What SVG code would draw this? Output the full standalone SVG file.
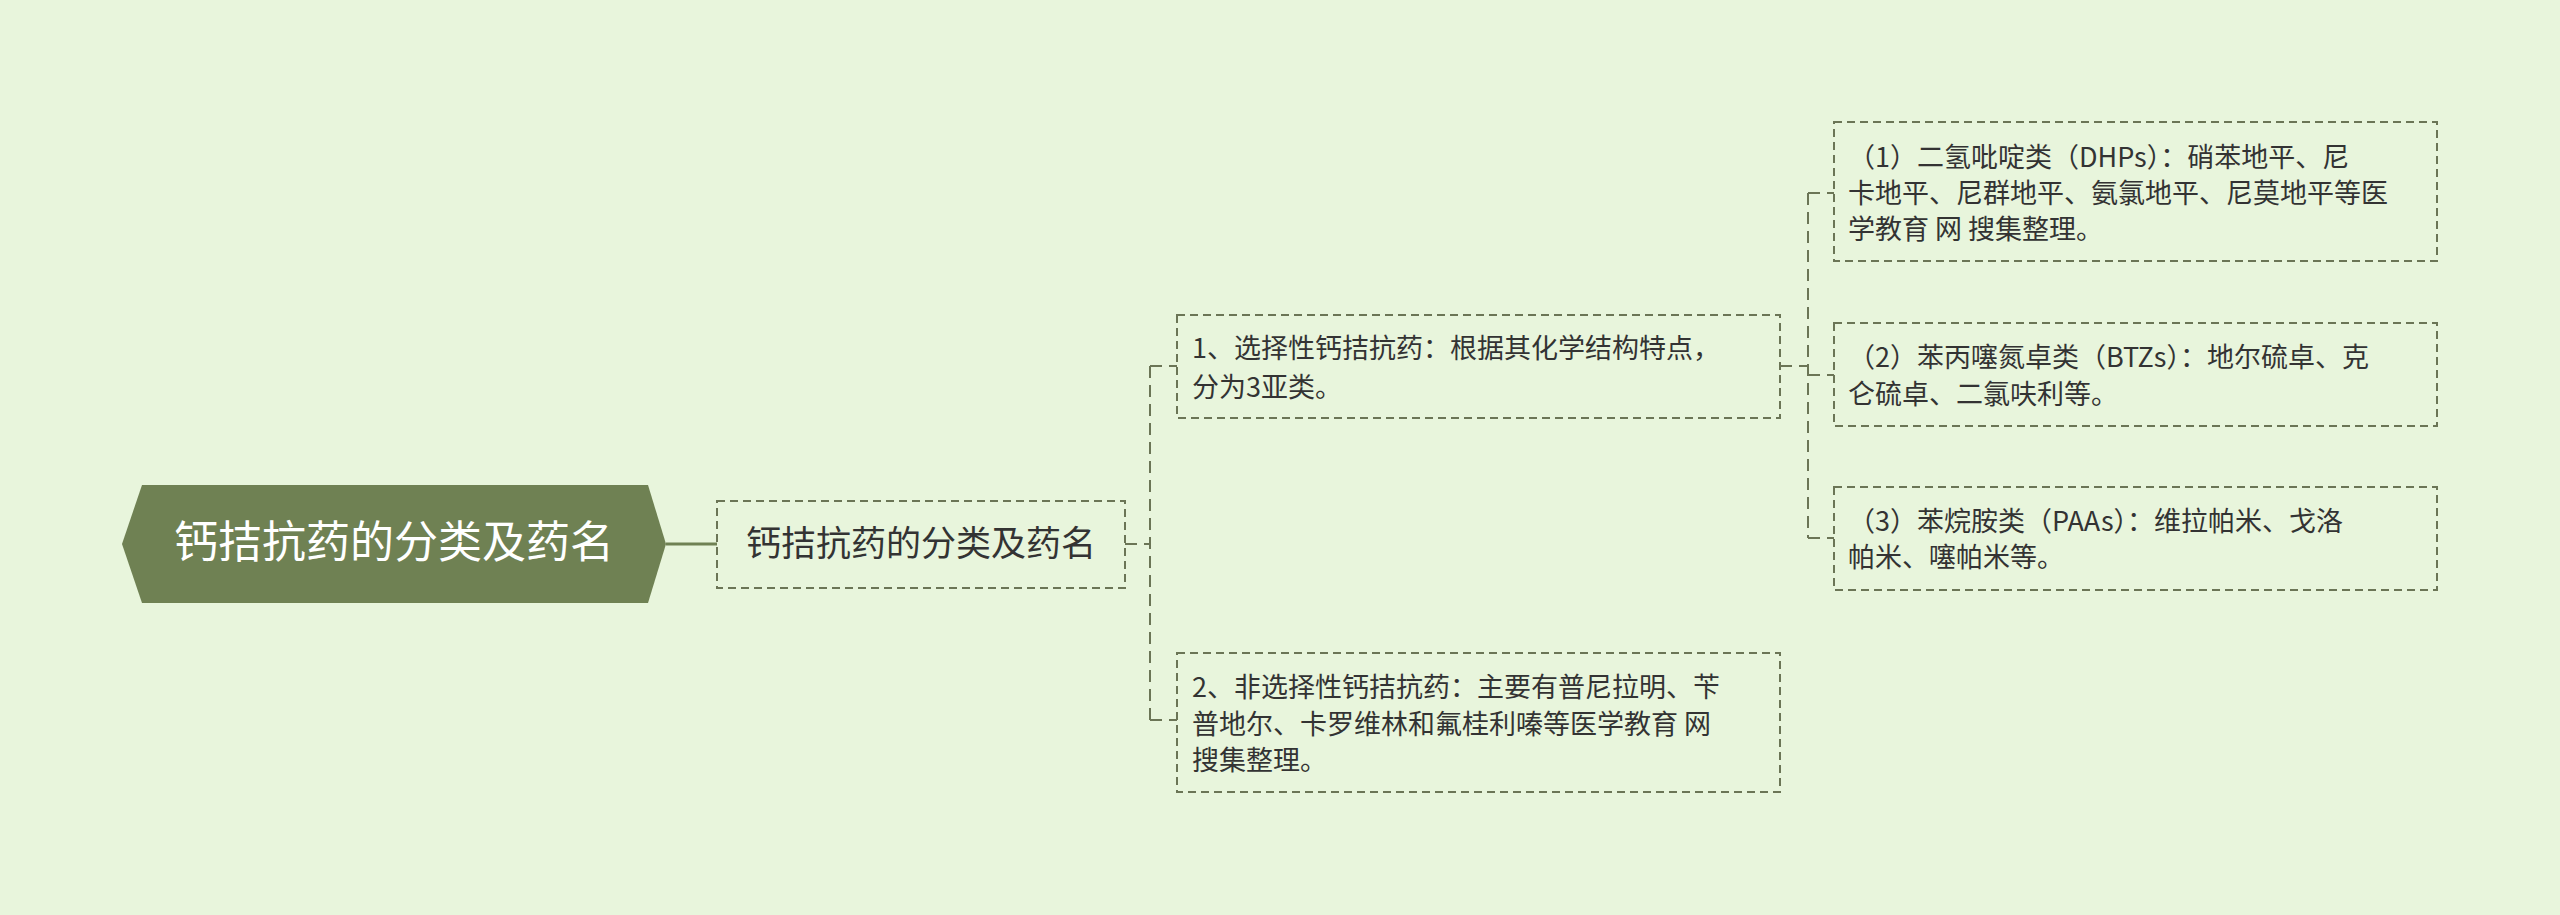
<svg xmlns="http://www.w3.org/2000/svg" width="2560" height="915" viewBox="0 0 2560 915">
<style>
.bg{fill:#e8f5dc}
.box{fill:none;stroke:#6b7556;stroke-width:2;stroke-dasharray:8 5}
.t{font-family:"Noto Sans CJK SC","Noto Sans",sans-serif;font-size:27px;fill:#333}
.c{fill:none;stroke:#6b7556;stroke-width:2;stroke-dasharray:12 7}
</style>
<rect class="bg" width="2560" height="915"/>
<g id="connectors">
<line x1="666" y1="544" x2="717" y2="544" stroke="#6f8153" stroke-width="3"/>
<path class="c" d="M1125 544 H1150 M1150 366 V720 M1150 366 H1177 M1150 720 H1177"/>
<path class="c" d="M1780 366 H1808 M1808 193 V538 M1808 193 H1834 M1808 375 H1834 M1808 538 H1834"/>
</g>
<g id="root">
<polygon points="122,544 142,485 648,485 666,544 648,603 142,603" fill="#6f8153"/>
<text x="394" y="558" text-anchor="middle" font-family="Noto Sans CJK SC,sans-serif" font-size="44" fill="#fff">钙拮抗药的分类及药名</text>
</g>
<g id="n1">
<rect class="box" x="717" y="501" width="408" height="87"/>
<text x="921" y="556" text-anchor="middle" class="t" style="font-size:35px">钙拮抗药的分类及药名</text>
</g>
<g id="nA">
<rect class="box" x="1177" y="315" width="603" height="103"/>
<text class="t" x="1192"><tspan y="358">1、选择性钙拮抗药：根据其化学结构特点，</tspan><tspan x="1192" y="397">分为3亚类。</tspan></text>
</g>
<g id="nB">
<rect class="box" x="1177" y="653" width="603" height="139"/>
<text class="t" x="1192"><tspan y="697">2、非选择性钙拮抗药：主要有普尼拉明、苄</tspan><tspan x="1192" y="734">普地尔、卡罗维林和氟桂利嗪等医学教育 网</tspan><tspan x="1192" y="770">搜集整理。</tspan></text>
</g>
<g id="c1">
<rect class="box" x="1834" y="122" width="603" height="139"/>
<text class="t" x="1848"><tspan y="167">（1）二氢吡啶类（DHPs）：硝苯地平、尼</tspan><tspan x="1848" y="203">卡地平、尼群地平、氨氯地平、尼莫地平等医</tspan><tspan x="1848" y="239">学教育 网 搜集整理。</tspan></text>
</g>
<g id="c2">
<rect class="box" x="1834" y="323" width="603" height="103"/>
<text class="t" x="1848"><tspan y="367">（2）苯丙噻氮卓类（BTZs）：地尔硫卓、克</tspan><tspan x="1848" y="404">仑硫卓、二氯呋利等。</tspan></text>
</g>
<g id="c3">
<rect class="box" x="1834" y="487" width="603" height="103"/>
<text class="t" x="1848"><tspan y="531">（3）苯烷胺类（PAAs）：维拉帕米、戈洛</tspan><tspan x="1848" y="567">帕米、噻帕米等。</tspan></text>
</g>
</svg>
